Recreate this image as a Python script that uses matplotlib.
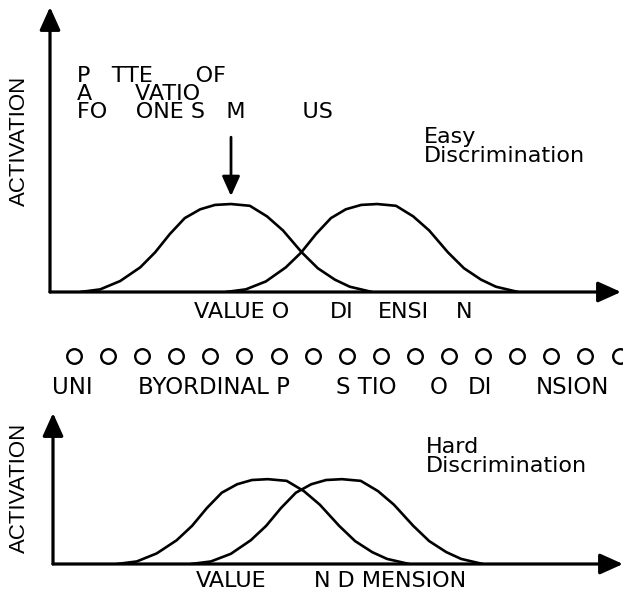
import matplotlib
matplotlib.use("Agg")
import matplotlib.pyplot as plt

# ---------------- data ----------------
# value-dimension positions (0-100 along the axis) and activation (peak = 1)
top_left_x = [5.3, 8.8, 12.3, 15.8, 18.4, 21.0, 23.6, 26.3, 28.9, 31.7,
              35.0, 38.0, 40.8, 44.1, 46.9, 49.9, 52.5, 56.4]
top_left_y = [0, .03, .125, .28, .45, .66, .84, .94, .99, 1.0,
              .98, .86, .70, .45, .27, .14, .06, 0]
top_right_x = [30.8, 34.3, 37.8, 41.3, 44.0, 46.6, 49.2, 51.8, 54.5, 57.3,
               60.6, 63.6, 66.4, 69.7, 72.5, 75.5, 78.1, 82.0]
top_right_y = [0, .03, .12, .28, .45, .66, .84, .94, .99, 1.0,
               .98, .86, .70, .45, .27, .14, .06, 0]
bot_left_x = [11.2, 14.7, 18.2, 21.7, 24.4, 27.0, 29.6, 32.3, 34.9, 37.7,
              41.0, 44.0, 46.8, 50.2, 53.0, 56.0, 58.6, 62.5]
bot_left_y = [0, .03, .125, .28, .45, .66, .84, .94, .99, 1.0,
              .98, .86, .70, .45, .27, .14, .06, 0]
bot_right_x = [24.2, 27.7, 31.2, 34.7, 37.4, 40.0, 42.6, 45.3, 47.9, 50.7,
               54.0, 57.0, 59.8, 63.2, 66.0, 69.0, 71.6, 75.4]
bot_right_y = [0, .03, .12, .28, .45, .66, .84, .94, .99, 1.0,
               .98, .86, .70, .45, .27, .14, .06, 0]

# ordinal positions of the stimulus units
unit_positions = list(range(1, 18))

# text (as it appears)
title_text = "P   TTE      OF\nA      VATIO\nFO    ONE S   M        US"
top_xlabel = ["VALUE O", "DI", "ENSI", "N"]
units_label = ["UNI", "BYORDINAL P", "S TIO", "O", "DI", "NSION"]
bot_xlabel = ["VALUE", "N D MENSION"]
ylabel = "ACTIVATION"
easy_label = "Easy\nDiscrimination"
hard_label = "Hard\nDiscrimination"

# ---------------- layout ----------------
W, H = 623, 597
fig = plt.figure(figsize=(W / 100, H / 100), dpi=100)
FONT = "DejaVu Sans"
FS = 16


def box(x0, y0, x1, y1):
    return [x0 / W, 1 - y1 / H, (x1 - x0) / W, (y1 - y0) / H]


def ptxt(x, y, s, **kw):
    kw.setdefault("fontsize", FS)
    kw.setdefault("family", FONT)
    kw.setdefault("ha", "left")
    kw.setdefault("va", "baseline")
    fig.text(x / W, 1 - y / H, s, **kw)


def arrow_axes(ax):
    ax.set_axis_off()
    props = dict(arrowstyle="-|>,head_length=1.0,head_width=0.45",
                 lw=2.3, color="black", shrinkA=0, shrinkB=0,
                 mutation_scale=14)
    ax.annotate("", xy=(1, 0), xytext=(0, 0), xycoords="axes fraction",
                textcoords="axes fraction", arrowprops=props,
                annotation_clip=False)
    ax.annotate("", xy=(0, 1), xytext=(0, 0), xycoords="axes fraction",
                textcoords="axes fraction", arrowprops=props,
                annotation_clip=False)


line_kw = dict(color="black", lw=1.9, solid_joinstyle="round",
               solid_capstyle="round")

# top panel
ax1 = fig.add_axes(box(50, 7, 621, 292))
ax1.set_xlim(0, 100)
ax1.set_ylim(0, 3.24)
arrow_axes(ax1)
ax1.plot(top_left_x, top_left_y, **line_kw)
ax1.plot(top_right_x, top_right_y, **line_kw)
ipk = top_left_y.index(max(top_left_y))
ax1.annotate("", xy=(top_left_x[ipk], top_left_y[ipk] + 0.09),
             xytext=(top_left_x[ipk], top_left_y[ipk] + 0.76),
             arrowprops=dict(arrowstyle="-|>,head_length=1.0,head_width=0.45",
                             lw=2.0, color="black", shrinkA=0, shrinkB=0,
                             mutation_scale=12))

# bottom panel
ax2 = fig.add_axes(box(53, 413, 623, 564))
ax2.set_xlim(0, 100)
ax2.set_ylim(0, 1.78)
arrow_axes(ax2)
ax2.plot(bot_left_x, bot_left_y, **line_kw)
ax2.plot(bot_right_x, bot_right_y, **line_kw)

# unit row
ax3 = fig.add_axes(box(0, 340, 623, 372))
ax3.set_xlim(-1.17, 17.10)
ax3.set_ylim(-1, 1)
ax3.set_axis_off()
ax3.plot(unit_positions, [0] * len(unit_positions), ls="none", marker="o",
         ms=10.5, mfc="white", mec="black", mew=1.7, clip_on=True)

# texts
ptxt(19, 141, ylabel, rotation=90, ha="center", va="center",
     family="Liberation Sans", fontsize=16)
ptxt(19, 488, ylabel, rotation=90, ha="center", va="center",
     family="Liberation Sans", fontsize=16)

ptxt(77, 66, title_text, va="top", linespacing=0.88)
ptxt(424, 127, easy_label, va="top", linespacing=0.91)
ptxt(426, 437, hard_label, va="top", linespacing=0.91)

for s, x in zip(top_xlabel, [194, 330, 378, 456]):
    ptxt(x, 318, s)
for s, x in zip(units_label, [52, 138, 336, 430, 468, 536]):
    ptxt(x, 394, s, fontsize=16.5)
for s, x in zip(bot_xlabel, [196, 314]):
    ptxt(x, 587, s)

fig.savefig("out.png", dpi=100)
